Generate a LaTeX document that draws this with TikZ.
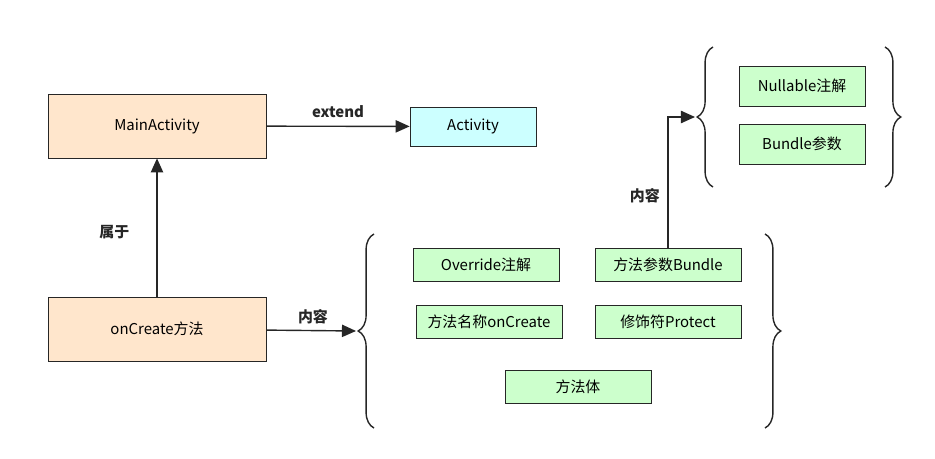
\documentclass[tikz,border=0pt]{standalone}
\usepackage{fontspec}
\setmainfont{Noto Sans CJK SC}
\usetikzlibrary{decorations.pathreplacing,arrows.meta}
\definecolor{peach}{HTML}{FFE6CC}
\definecolor{cyanbox}{HTML}{CCFFFF}
\definecolor{greenbox}{HTML}{CCFFCC}
\tikzset{
  big/.style={draw=black!85,fill=peach,minimum width=4.36cm,minimum height=1.28cm},
  item/.style={draw=black!85,fill=greenbox,minimum width=2.92cm,minimum height=0.66cm},
  lbl/.style={font=\fontsize{8.5}{10}\selectfont\bfseries},
  link/.style={-{Triangle[length=8pt,width=7pt]},line width=0.8pt,black!85},
  curly/.style={decorate,decoration={brace,amplitude=9pt},line width=0.8pt,black!85}
}
\begin{document}
\begin{tikzpicture}[x=0.02cm,y=-0.02cm,font=\fontsize{8.5}{10}\selectfont]
  \useasboundingbox (0,0) rectangle (935,459);
  % left side
  \node[big] (main) at (157,126) {MainActivity};
  \node[big] (create) at (157,329) {onCreate方法};
  \node[draw=black!85,fill=cyanbox,minimum width=2.52cm,minimum height=0.78cm] (act) at (473,126.5) {Activity};
  % method parts
  \node[item] (override) at (486,264.5) {Override注解};
  \node[item] (param) at (668,264.5) {方法参数Bundle};
  \node[item] (name) at (489,322) {方法名称onCreate};
  \node[item] (modifier) at (668,322) {修饰符Protect};
  \node[item] (body) at (578,387) {方法体};
  % bundle parts
  \node[item,minimum width=2.52cm,minimum height=0.8cm] (nullable) at (802,86) {Nullable注解};
  \node[item,minimum width=2.52cm,minimum height=0.8cm] (bundle) at (802,144) {Bundle参数};
  % braces
  \draw[curly] (374,428) -- (374,234) coordinate[pos=0.5,xshift=-0.36cm] (tip1);
  \draw[curly] (765,234) -- (765,428);
  \draw[curly] (713,187) -- (713,47) coordinate[pos=0.5,xshift=-0.36cm] (tip2);
  \draw[curly] (885,47) -- (885,187);
  % links
  \draw[link] (main) -- node[lbl,above=1pt] {extend} (act);
  \draw[link] (create) -- node[lbl,left=12pt,pos=0.47] {属于} (main);
  \draw[link] (create) -- node[lbl,above=0pt,pos=0.52] {内容} (tip1);
  \draw[link] (param) |- node[lbl,left=1pt,pos=0.2] {内容} (tip2);
\end{tikzpicture}
\end{document}
